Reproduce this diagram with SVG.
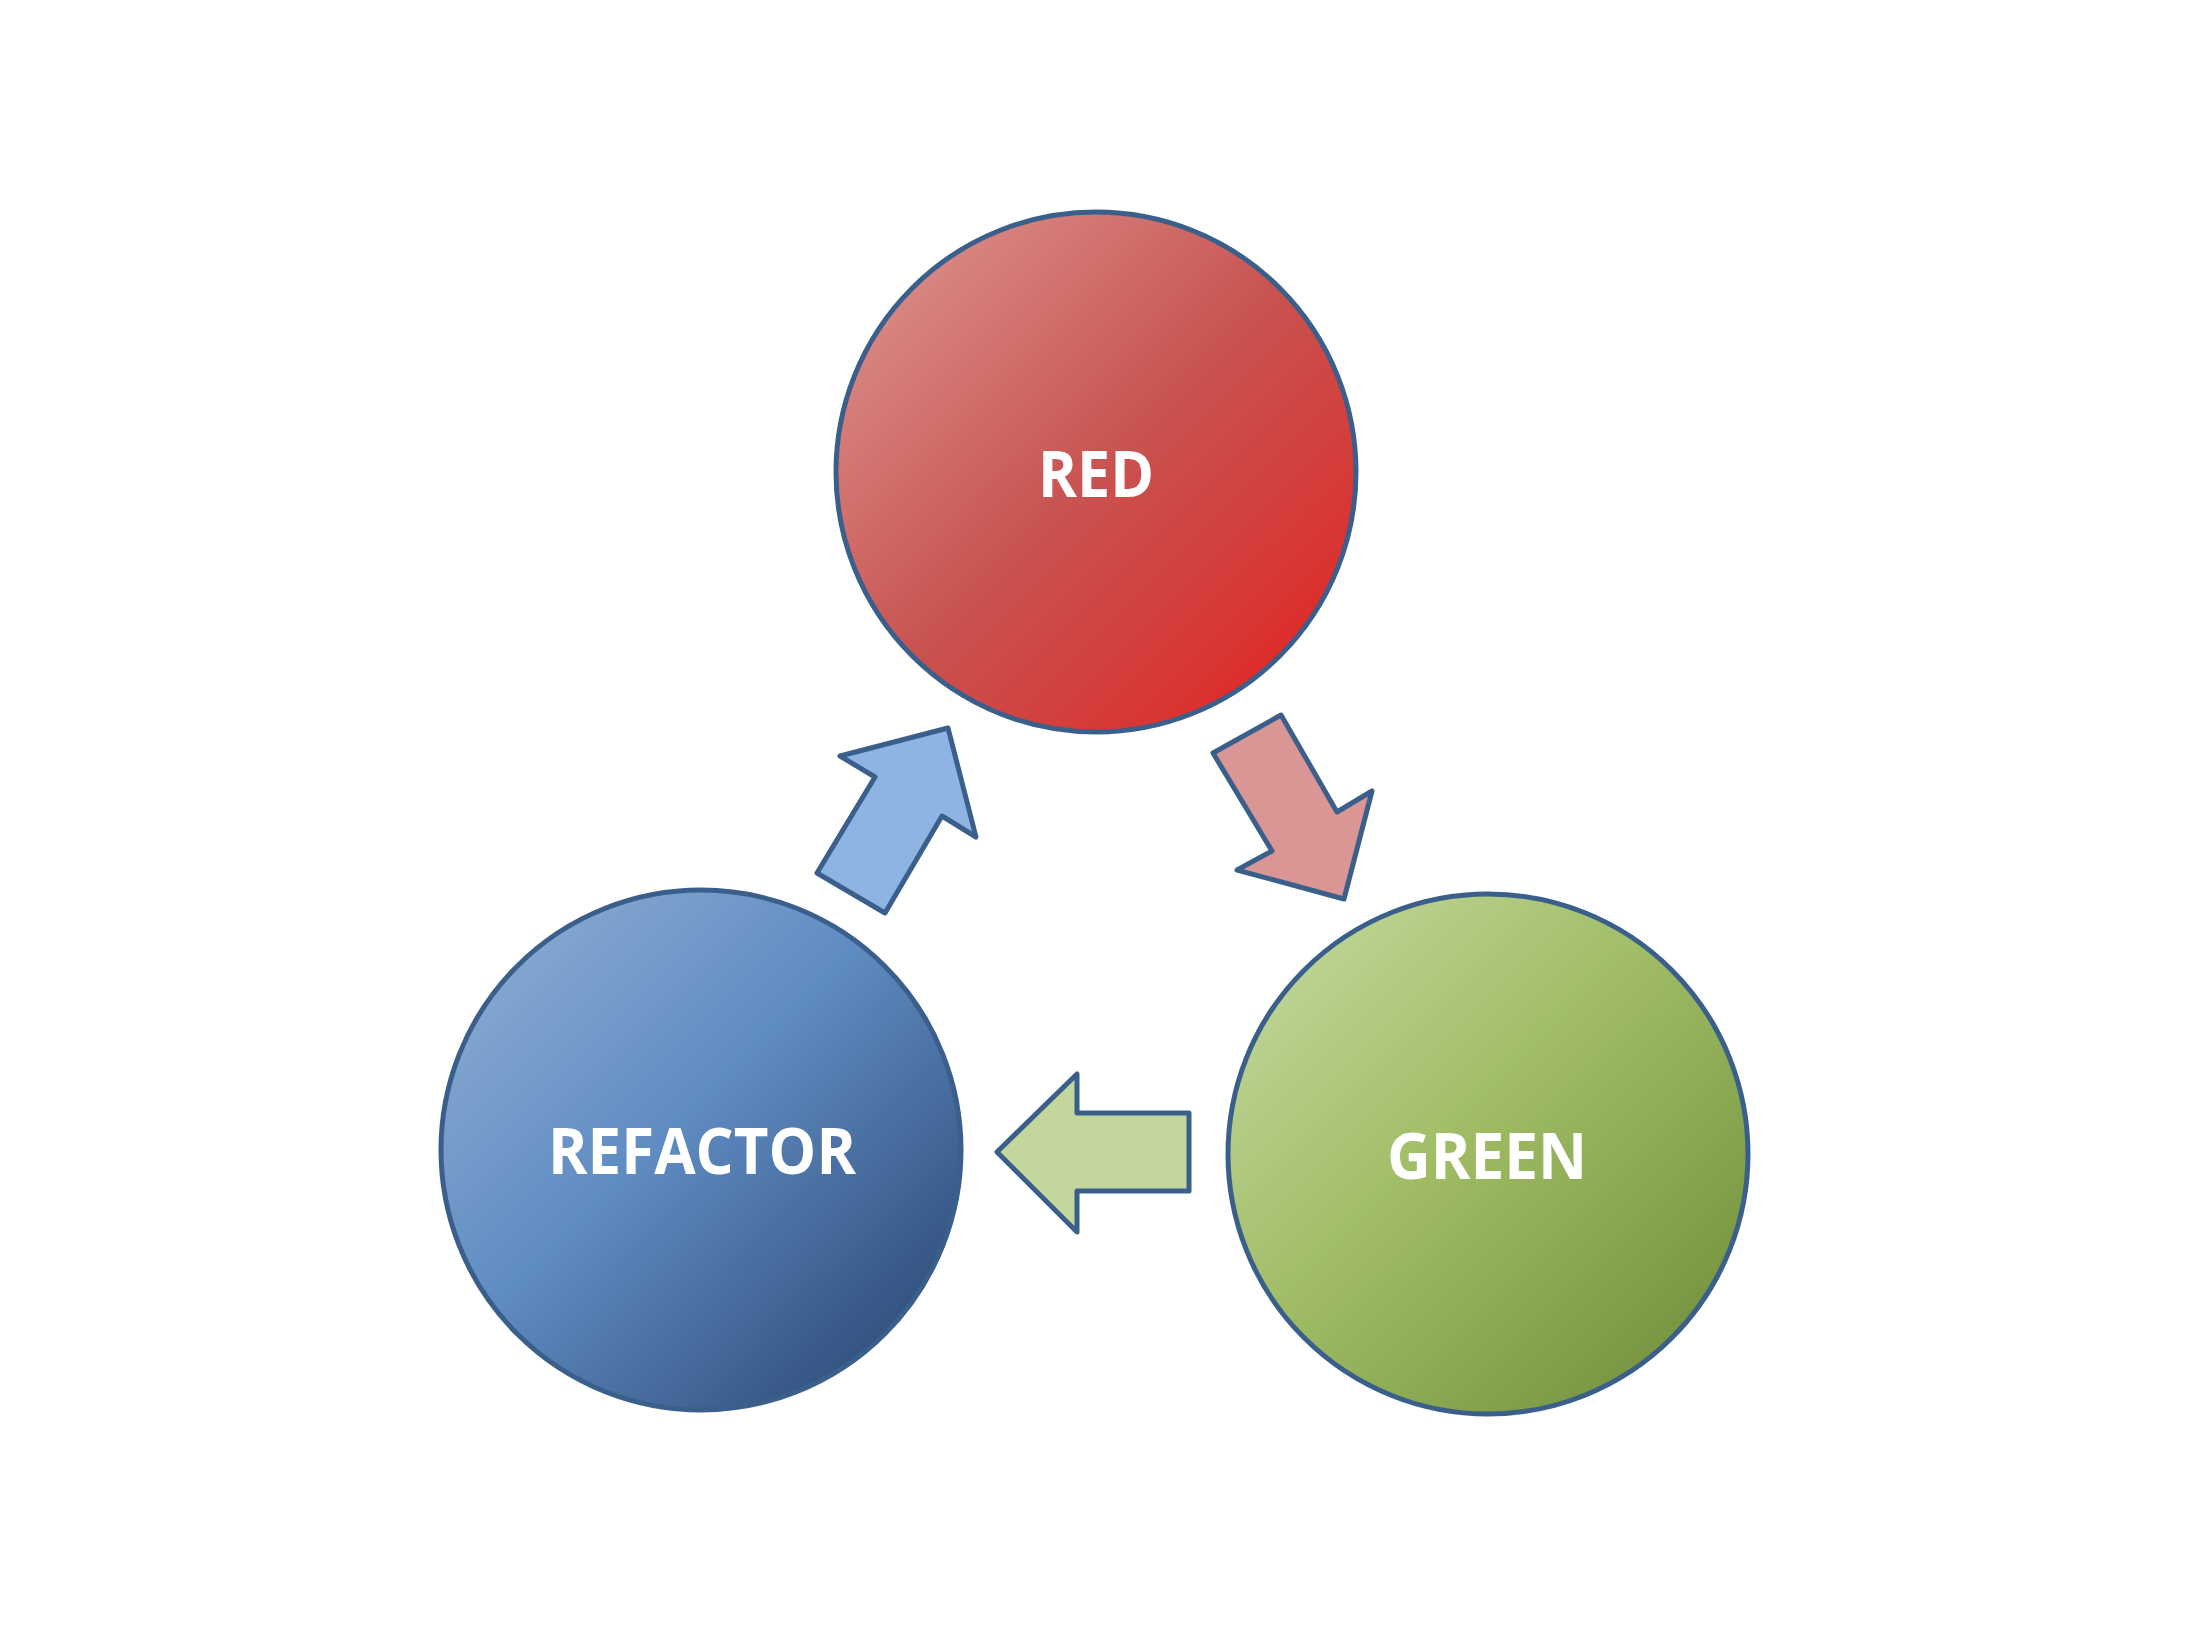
<svg xmlns="http://www.w3.org/2000/svg" width="2200" height="1650" viewBox="0 0 2200 1650">
<defs>
<linearGradient id="gRed" x1="0" y1="0" x2="1" y2="1">
<stop offset="0" stop-color="#DE9A96"/>
<stop offset="0.5" stop-color="#C85350"/>
<stop offset="0.8" stop-color="#D83533"/>
<stop offset="1" stop-color="#F20E0E"/>
</linearGradient>
<linearGradient id="gBlue" x1="0" y1="0" x2="1" y2="1">
<stop offset="0" stop-color="#94B1D6"/>
<stop offset="0.45" stop-color="#5F8CC2"/>
<stop offset="1" stop-color="#253F6A"/>
</linearGradient>
<linearGradient id="gGreen" x1="0" y1="0" x2="1" y2="1">
<stop offset="0" stop-color="#C8DCA6"/>
<stop offset="0.45" stop-color="#A0BD66"/>
<stop offset="1" stop-color="#6B8835"/>
</linearGradient>
</defs>
<style>
.node{stroke:#3A5F8B;stroke-width:5}
.arrow{stroke:#3A5F8B;stroke-width:5;stroke-linejoin:round}
.label{font-family:"Open Sans","Noto Sans","Liberation Sans",sans-serif;font-weight:700;font-size:64px;fill:#FFFFFF;text-anchor:middle}
</style>
<rect width="2200" height="1650" fill="#FFFFFF"/>
<g id="connectors">
<polygon id="red-to-green" class="arrow" fill="#D99694" points="1213,753 1281,715 1337,812 1372,791 1344,899 1237,870 1272,851"/>
<polygon id="green-to-refactor" class="arrow" fill="#C3D69B" points="997,1152 1077,1074 1077,1113 1189,1113 1189,1191 1077,1191 1077,1232"/>
<polygon id="refactor-to-red" class="arrow" fill="#8EB4E3" points="817,873 885,913 942,816 976,837 948,728 840,756 875,777"/>
</g>
<g id="node-red">
<circle class="node" cx="1096" cy="472" r="260" fill="url(#gRed)"/>
<text class="label" x="1096" y="497" textLength="116" lengthAdjust="spacingAndGlyphs">RED</text>
</g>
<g id="node-green">
<circle class="node" cx="1488" cy="1154" r="260" fill="url(#gGreen)"/>
<text class="label" x="1487" y="1179" textLength="200" lengthAdjust="spacingAndGlyphs">GREEN</text>
</g>
<g id="node-refactor">
<circle class="node" cx="701" cy="1150" r="260" fill="url(#gBlue)"/>
<text class="label" x="702" y="1174" textLength="308" lengthAdjust="spacingAndGlyphs">REFACTOR</text>
</g>
</svg>
